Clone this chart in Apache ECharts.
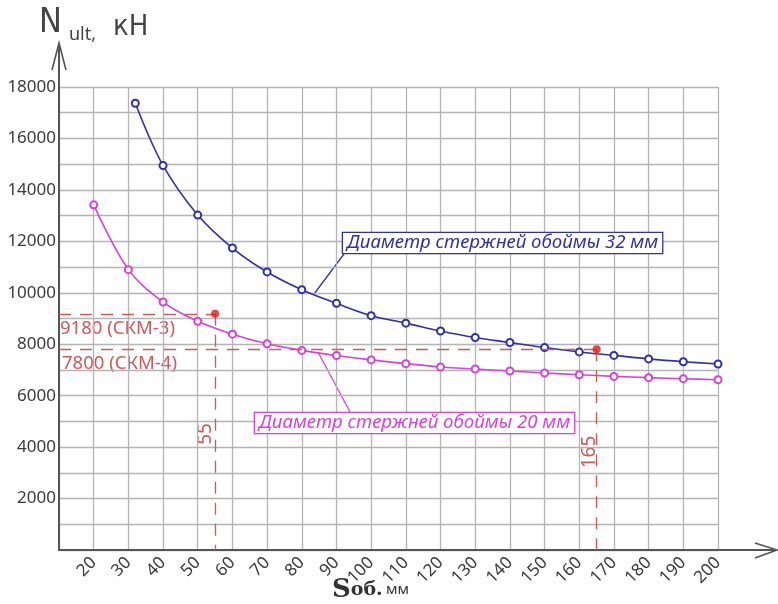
<!DOCTYPE html>
<html>
<head>
<meta charset="utf-8">
<script src="https://cdn.jsdelivr.net/npm/echarts@6/dist/echarts.min.js"></script>
<style>
  html, body { margin: 0; padding: 0; background: #fff; }
  #root { width: 778px; height: 604px; }
</style>
</head>
<body>
<div id="root"></div>
<script>
// diameter 32 mm
var s32 = [32, 40, 50, 60, 70, 80, 90, 100, 110, 120, 130, 140, 150, 160, 170, 180, 190, 200];
var n32 = [17370, 14950, 13020, 11740, 10810, 10120, 9590, 9110, 8820, 8515, 8260, 8065, 7870, 7700, 7565, 7430, 7320, 7230];
// diameter 20 mm
var s20 = [20, 30, 40, 50, 60, 70, 80, 90, 100, 110, 120, 130, 140, 150, 160, 170, 180, 190, 200];
var n20 = [13420, 10900, 9640, 8890, 8390, 8020, 7760, 7560, 7390, 7245, 7115, 7035, 6960, 6880, 6815, 6750, 6700, 6660, 6620];
// red marks
var sMark = [55, 165];
var nMark = [9180, 7800];
var markText = ['9180 (СКМ-3)', '7800 (СКМ-4)'];

var BLUE = '#2f2fb5';
var PINK = '#dc3fdc';
var RED = '#d25858';
var GRIDC = '#b4b4b4';
var AXISC = '#555';
var FONT = '"Noto Sans", sans-serif';

function pairs (xs, ys) {
  var out = [];
  for (var i = 0; i < xs.length; i++) out.push([xs[i], ys[i]]);
  return out;
}

var markLines = [];
for (var i = 0; i < sMark.length; i++) {
  markLines.push([{ coord: [10, nMark[i]] }, { coord: [sMark[i], nMark[i]] }]);
  markLines.push([{ coord: [sMark[i], nMark[i]] }, { coord: [sMark[i], 0] }]);
}

var chart = echarts.init(document.getElementById('root'));

var option = {
  animation: false,
  backgroundColor: '#fff',
  grid: { left: 59, right: 60, top: 87, bottom: 54 },
  xAxis: {
    type: 'value', min: 10, max: 200, interval: 10,
    axisLine: { show: true, onZero: false, lineStyle: { color: AXISC, width: 2 } },
    axisTick: { show: false },
    splitLine: { show: true, lineStyle: { color: GRIDC, width: 1.3 } },
    axisLabel: {
      rotate: 45, margin: 10, fontSize: 17, color: '#3a3a3a', fontFamily: FONT,
      formatter: function (v) { return v === 10 ? '' : String(v) }
    }
  },
  yAxis: {
    type: 'value', min: 0, max: 18000, interval: 1000,
    axisLine: { show: true, lineStyle: { color: AXISC, width: 2 } },
    axisTick: { show: false },
    splitLine: { show: true, lineStyle: { color: GRIDC, width: 1.3 } },
    axisLabel: {
      margin: 3, fontSize: 17, color: '#3a3a3a', fontFamily: FONT,
      formatter: function (v) { return (v > 0 && v % 2000 === 0) ? String(v) : '' }
    }
  },
  series: [
    {
      name: '32', type: 'line', smooth: 0.35, data: pairs(s32, n32),
      symbol: 'emptyCircle', symbolSize: 7,
      lineStyle: { color: BLUE, width: 1.6 },
      itemStyle: { color: BLUE, borderWidth: 1.5 }
    },
    {
      name: '20', type: 'line', smooth: 0.35, data: pairs(s20, n20),
      symbol: 'emptyCircle', symbolSize: 7,
      lineStyle: { color: PINK, width: 1.6 },
      itemStyle: { color: PINK, borderWidth: 1.5 }
    },
    {
      name: 'mark', type: 'scatter', data: pairs(sMark, nMark),
      symbol: 'circle', symbolSize: 8, z: 5,
      itemStyle: { color: '#ee1515' },
      markLine: {
        silent: true, symbol: ['none', 'none'], label: { show: false },
        lineStyle: { color: RED, width: 1.3, type: [12, 9] },
        data: markLines
      }
    }
  ],
  graphic: [
    // axis extensions with open arrow heads
    { type: 'line', shape: { x1: 59, y1: 87, x2: 59, y2: 43 }, style: { stroke: AXISC, lineWidth: 2 } },
    { type: 'polyline', shape: { points: [[52, 70], [59, 43], [66, 70]] }, style: { stroke: AXISC, lineWidth: 1.6, fill: null } },
    { type: 'line', shape: { x1: 718, y1: 550, x2: 776, y2: 550 }, style: { stroke: AXISC, lineWidth: 2 } },
    { type: 'polyline', shape: { points: [[755, 543], [777, 550], [755, 558]] }, style: { stroke: AXISC, lineWidth: 1.6, fill: null } },
    // axis titles
    { type: 'text', x: 39, y: 40, style: { text: 'N', fill: '#444', font: '34px "DejaVu Sans Condensed", sans-serif', textVerticalAlign: 'bottom' } },
    { type: 'text', x: 69, y: 44, style: { text: 'ult,', fill: '#444', font: '18px ' + FONT, textVerticalAlign: 'bottom' } },
    { type: 'text', x: 113, y: 42, style: { text: 'кН', fill: '#444', font: '29px "DejaVu Sans Condensed", sans-serif', textVerticalAlign: 'bottom' } },
    {
      type: 'text', x: 332, y: 603,
      style: {
        text: '{s|S}{o|об.} {m|мм}', textVerticalAlign: 'bottom',
        rich: {
          s: { fontSize: 26, fontFamily: '"DejaVu Serif", serif', fontWeight: 'bold', fill: '#333' },
          o: { fontSize: 19, fontFamily: '"DejaVu Serif", serif', fontWeight: 'bold', fill: '#333' },
          m: { fontSize: 15, fontFamily: FONT, fill: '#333' }
        }
      }
    },
    // red labels
    { type: 'text', x: 60, y: 329, style: { text: markText[0], fill: RED, font: '18.5px ' + FONT, textVerticalAlign: 'middle' } },
    { type: 'text', x: 62, y: 364, style: { text: markText[1], fill: RED, font: '18.5px ' + FONT, textVerticalAlign: 'middle' } },
    { type: 'text', x: 206, y: 434, rotation: Math.PI / 2, style: { text: String(sMark[0]), fill: RED, font: '19px ' + FONT, textAlign: 'center', textVerticalAlign: 'middle' } },
    { type: 'text', x: 590, y: 452, rotation: Math.PI / 2, style: { text: String(sMark[1]), fill: RED, font: '19px ' + FONT, textAlign: 'center', textVerticalAlign: 'middle' } },
    // callouts
    { type: 'line', shape: { x1: 344, y1: 254, x2: 314, y2: 294 }, style: { stroke: BLUE, lineWidth: 1.3 } },
    {
      type: 'text', x: 343, y: 243, z: 10,
      style: {
        text: 'Диаметр стержней обоймы 32 мм', fill: BLUE, font: 'italic 18.6px ' + FONT,
        textVerticalAlign: 'middle', backgroundColor: '#fff', borderColor: BLUE, borderWidth: 1.3,
        padding: [1, 4, 0, 4]
      }
    },
    { type: 'line', shape: { x1: 318, y1: 352, x2: 350, y2: 412 }, style: { stroke: PINK, lineWidth: 1.3 } },
    {
      type: 'text', x: 255, y: 423, z: 10,
      style: {
        text: 'Диаметр стержней обоймы 20 мм', fill: PINK, font: 'italic 18.6px ' + FONT,
        textVerticalAlign: 'middle', backgroundColor: '#fff', borderColor: PINK, borderWidth: 1.3,
        padding: [1, 4, 0, 4]
      }
    }
  ]
};

chart.setOption(option);
</script>
</body>
</html>
